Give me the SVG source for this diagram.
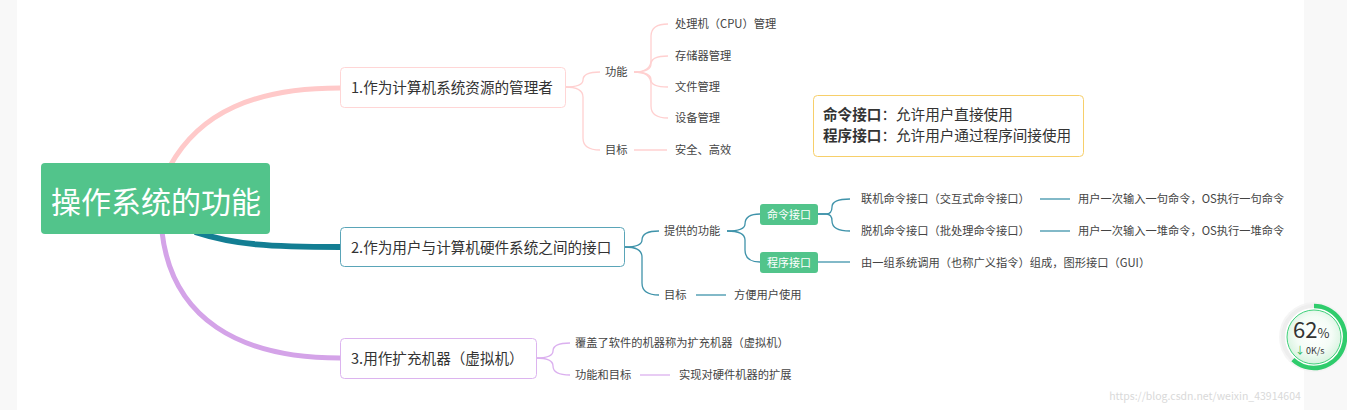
<svg xmlns="http://www.w3.org/2000/svg" width="1347" height="410" viewBox="0 0 1347 410">
<defs>
<style>
text{font-family:"Noto Sans CJK SC","Noto Sans",sans-serif;}
.leaf{font-size:11.25px;fill:#444;}
.mid{font-size:14.6px;fill:#333;}
.c1{fill:none;stroke:#ffd0d0;stroke-width:1.3;}
.c2{fill:none;stroke:#3f93aa;stroke-width:1.3;}
.c3{fill:none;stroke:#dbb0ef;stroke-width:1.3;}
.tag{fill:#52c48b;}
.tagt{font-size:11px;fill:#fff;}
</style>
<radialGradient id="rg" cx="50%" cy="45%" r="55%">
<stop offset="0" stop-color="#ffffff"/>
<stop offset="0.6" stop-color="#f4fcf6"/>
<stop offset="1" stop-color="#d7f3df"/>
</radialGradient>
</defs>
<rect x="0" y="0" width="1347" height="410" fill="#ffffff"/>
<rect x="0" y="0" width="17" height="410" fill="#f8f8f8"/>
<rect x="1304" y="0" width="43" height="410" fill="#f8f8f8"/>

<g id="connectors">
<path d="M170,166 C200,112 255,88 340,88" fill="none" stroke="#ffc9c9" stroke-width="5"/>
<path d="M195,232 C235,245 270,247 340,247" fill="none" stroke="#137e93" stroke-width="6"/>
<path d="M162,232 C172,318 238,358 340,358" fill="none" stroke="#d4a3e8" stroke-width="5"/>
<path class="c1" d="M565,87 Q583,87 583,80 Q583,72 600,72"/>
<path class="c1" d="M565,87 Q583,87 583,97 V138 Q583,150 600,150"/>
<path class="c1" d="M634,72 Q651,72 651,60 V36 Q651,24 668,24"/>
<path class="c1" d="M634,72 Q651,72 651,64 Q651,56 668,56"/>
<path class="c1" d="M634,72 Q651,72 651,80 Q651,87 668,87"/>
<path class="c1" d="M634,72 Q651,72 651,84 V106 Q651,118 668,118"/>
<path class="c1" d="M634,150 H667"/>
<path class="c2" d="M625,247 Q642,247 642,240 Q642,231 659,231"/>
<path class="c2" d="M625,247 Q642,247 642,257 V283 Q642,295 659,295"/>
<path class="c2" d="M727,231 Q745,231 745,224 Q745,214 760,214"/>
<path class="c2" d="M727,231 Q745,231 745,240 V250 Q745,262 760,262"/>
<path class="c2" d="M818,214 H826 Q832,214 832,207 Q832,199 850,199"/>
<path class="c2" d="M818,214 H826 Q832,214 832,221 Q832,231 850,231"/>
<path class="c2" d="M818,262 H850"/>
<path class="c2" d="M1040,199 H1070" stroke="#8cc3cf"/>
<path class="c2" d="M1040,231 H1070"/>
<path class="c2" d="M696,295 H726" stroke="#6cb0c2"/>
<path class="c3" d="M536,358 Q553,358 553,351 Q553,343 570,343"/>
<path class="c3" d="M536,358 Q553,358 553,366 Q553,375 570,375"/>
<path class="c3" d="M640,375 H670"/>
</g>

<g id="root">
<rect x="41" y="163" width="229" height="71" rx="4" fill="#52c48b"/>
<text x="156" y="213" text-anchor="middle" font-size="30" fill="#ffffff">操作系统的功能</text>
</g>

<g id="node1">
<rect x="340.5" y="67.5" width="225" height="40" rx="4" fill="#fff" stroke="#ffd6d6"/>
<text class="mid" x="351" y="92.5">1.作为计算机系统资源的管理者</text>
</g>
<g id="n1-func"><text class="leaf" x="605" y="76">功能</text></g>
<g id="n1-goal"><text class="leaf" x="605" y="154">目标</text></g>
<g id="n1-cpu"><text class="leaf" x="675" y="28">处理机（CPU）管理</text></g>
<g id="n1-mem"><text class="leaf" x="675" y="60">存储器管理</text></g>
<g id="n1-file"><text class="leaf" x="675" y="91">文件管理</text></g>
<g id="n1-dev"><text class="leaf" x="675" y="122">设备管理</text></g>
<g id="n1-safe"><text class="leaf" x="675" y="154">安全、高效</text></g>

<g id="node2">
<rect x="340.5" y="227.5" width="284" height="39" rx="4" fill="#fff" stroke="#5aa5b8"/>
<text class="mid" x="351" y="252.5">2.作为用户与计算机硬件系统之间的接口</text>
</g>
<g id="n2-func"><text class="leaf" x="664" y="235">提供的功能</text></g>
<g id="n2-goal"><text class="leaf" x="664" y="299">目标</text></g>
<g id="n2-easy"><text class="leaf" x="734" y="299">方便用户使用</text></g>
<g id="n2-cmd">
<rect class="tag" x="760" y="204" width="58" height="21" rx="3"/>
<text class="tagt" x="789" y="218.5" text-anchor="middle">命令接口</text>
</g>
<g id="n2-prog">
<rect class="tag" x="760" y="252" width="58" height="21" rx="3"/>
<text class="tagt" x="789" y="266.5" text-anchor="middle">程序接口</text>
</g>
<g id="n2-online"><text class="leaf" x="861" y="203">联机命令接口（交互式命令接口）</text></g>
<g id="n2-offline"><text class="leaf" x="861" y="235">脱机命令接口（批处理命令接口）</text></g>
<g id="n2-online-d"><text class="leaf" x="1078" y="203">用户一次输入一句命令，OS执行一句命令</text></g>
<g id="n2-offline-d"><text class="leaf" x="1078" y="235">用户一次输入一堆命令，OS执行一堆命令</text></g>
<g id="n2-prog-d"><text class="leaf" x="861" y="267">由一组系统调用（也称广义指令）组成，图形接口（GUI）</text></g>

<g id="node3">
<rect x="340.5" y="338.5" width="196" height="40" rx="4" fill="#fff" stroke="#dcb4ef"/>
<text class="mid" x="351" y="364">3.用作扩充机器（虚拟机）</text>
</g>
<g id="n3-a"><text class="leaf" x="575" y="347">覆盖了软件的机器称为扩充机器（虚拟机）</text></g>
<g id="n3-b"><text class="leaf" x="575" y="379">功能和目标</text></g>
<g id="n3-c"><text class="leaf" x="679" y="379">实现对硬件机器的扩展</text></g>

<g id="note">
<rect x="813.5" y="95.5" width="270" height="61" rx="4" fill="#fff" stroke="#f7cf6a"/>
<text x="823" y="120" font-size="14.6" fill="#333"><tspan font-weight="bold">命令接口</tspan>：允许用户直接使用</text>
<text x="823" y="141" font-size="14.6" fill="#333"><tspan font-weight="bold">程序接口</tspan>：允许用户通过程序间接使用</text>
</g>

<g id="widget">
<circle cx="1314" cy="337" r="35" fill="#f1f1f1" opacity="0.7"/>
<circle cx="1314" cy="337" r="31" fill="#fff" stroke="#eeeeee" stroke-width="4"/>
<circle cx="1314" cy="337" r="27" fill="url(#rg)" stroke="#3fd07a" stroke-width="1"/>
<path d="M1314,306 A31,31 0 1 1 1292.9,359.7" fill="none" stroke="#2fcc6c" stroke-width="4.5"/>
<text x="1293" y="338" font-family="Liberation Sans,sans-serif" font-size="22" fill="#333">62<tspan font-size="13">%</tspan></text>
<text x="1295" y="354" font-size="10" fill="#2fb85f">↓</text>
<text x="1306" y="354" font-family="Liberation Sans,sans-serif" font-size="9" fill="#333">0K/s</text>
</g>
<text x="1205" y="400" text-anchor="middle" font-family="Liberation Sans,sans-serif" font-size="10.5" fill="#d9d9d9">https://blog.csdn.net/weixin_43914604</text>
</svg>
